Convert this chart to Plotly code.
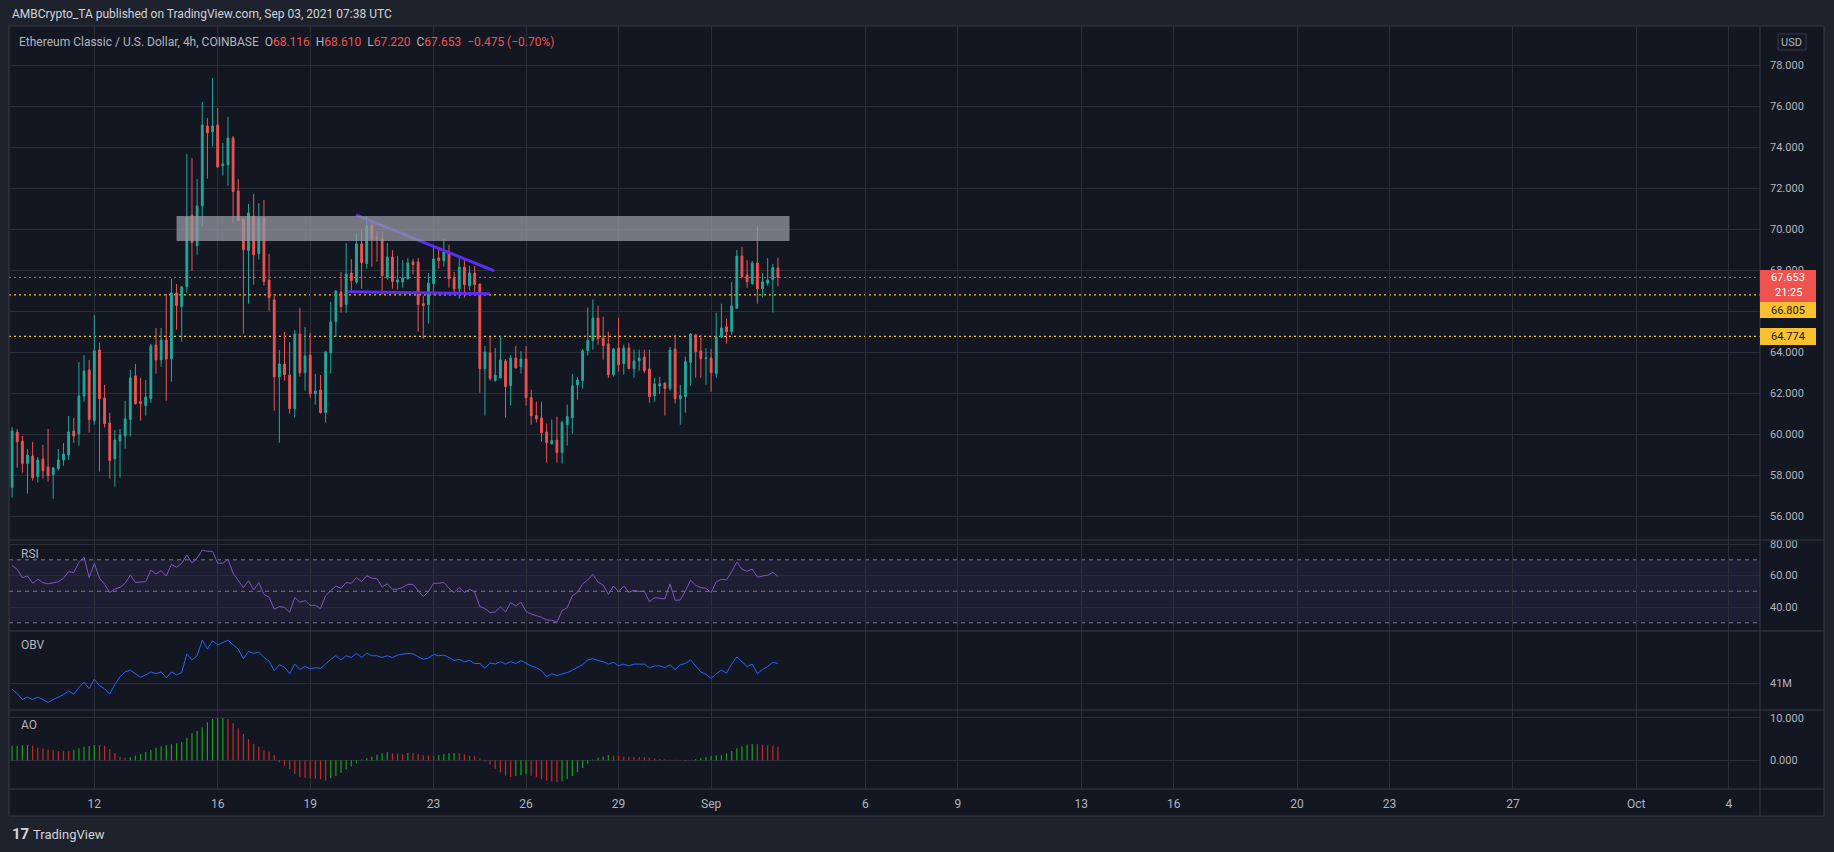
import plotly.graph_objects as go
import pandas as pd

# ---------------- data (4h bars, ETC/USD, Coinbase) ----------------
first_bar = "2021-08-09 08:00"

open_ = [
    57.40, 60.11, 59.67, 58.57, 58.94, 57.94, 58.80, 58.41, 58.03, 58.33,
    58.75, 58.99, 60.16, 60.02, 61.87, 63.14, 60.67, 64.11, 61.77, 60.55,
    58.81, 59.67, 59.92, 60.72, 62.85, 61.59, 61.40, 61.74, 64.36, 63.63,
    64.60, 63.67, 66.89, 66.23, 67.20, 70.70, 69.20, 71.15, 75.04, 74.76,
    75.09, 73.11, 73.15, 74.45, 71.87, 70.50, 68.96, 70.65, 68.81, 70.55,
    67.53, 66.55, 62.81, 63.43, 62.89, 61.25, 64.89, 63.00, 63.87, 61.98,
    62.16, 61.06, 63.98, 65.50, 66.94, 66.33, 67.87, 67.43, 69.29, 68.33,
    70.21, 69.63, 69.53, 67.64, 68.65, 67.43, 67.43, 67.59, 68.41, 68.41,
    66.37, 66.33, 67.35, 68.60, 68.47, 68.85, 67.63, 67.10, 68.16, 67.25,
    67.87, 67.33, 63.20, 63.97, 62.62, 62.76, 63.58, 62.37, 63.72, 63.30,
    63.67, 61.79, 60.91, 60.80, 60.11, 59.54, 59.72, 59.11, 60.47, 60.81,
    62.41, 62.62, 64.08, 64.57, 65.67, 64.70, 64.41, 62.91, 64.21, 63.45,
    64.21, 63.20, 63.59, 63.77, 63.19, 61.89, 62.36, 62.50, 62.23, 64.16,
    61.74, 61.84, 63.50, 64.85, 64.07, 63.69, 63.72, 62.96, 64.75, 65.24,
    65.01, 66.15, 68.70, 67.77, 67.35, 68.36, 67.10, 67.38, 67.54, 68.116,
]
high = [
    60.36, 60.26, 59.92, 59.28, 59.63, 58.89, 59.48, 60.26, 58.41, 59.28,
    59.58, 60.89, 60.80, 63.53, 63.87, 63.63, 65.82, 64.46, 62.41, 61.04,
    60.21, 60.26, 61.63, 63.14, 63.43, 62.75, 62.65, 64.41, 65.19, 65.19,
    66.85, 67.58, 67.33, 67.24, 73.68, 73.48, 72.46, 76.21, 75.43, 77.38,
    75.92, 74.21, 75.48, 74.55, 72.46, 70.52, 71.24, 71.72, 71.28, 71.43,
    68.80, 66.85, 64.11, 64.99, 64.50, 65.09, 66.16, 65.24, 64.94, 62.94,
    62.89, 64.07, 66.46, 67.02, 67.92, 69.33, 68.55, 69.77, 69.97, 70.65,
    70.31, 69.89, 69.92, 69.33, 68.99, 68.70, 68.50, 68.60, 68.55, 68.60,
    66.76, 67.87, 69.19, 69.04, 69.53, 69.24, 67.92, 68.65, 68.55, 68.21,
    68.21, 67.35, 64.31, 64.75, 64.21, 64.80, 63.67, 63.87, 64.31, 64.07,
    64.31, 62.18, 61.59, 61.59, 60.52, 60.72, 60.86, 60.67, 61.45, 62.94,
    62.80, 64.16, 66.18, 66.57, 66.28, 65.74, 65.01, 64.21, 65.69, 64.37,
    64.46, 64.13, 64.13, 64.13, 64.13, 62.76, 62.80, 62.52, 64.26, 64.85,
    62.41, 63.79, 64.94, 64.89, 64.85, 64.21, 64.16, 65.93, 66.37, 65.64,
    67.43, 68.99, 69.14, 68.50, 68.46, 70.16, 67.87, 68.60, 68.31, 68.610,
]
low = [
    56.91, 58.37, 58.13, 57.11, 57.74, 57.64, 57.84, 57.69, 56.86, 58.23,
    58.47, 58.75, 59.58, 59.45, 61.59, 60.08, 60.47, 58.18, 60.33, 57.84,
    57.45, 57.89, 59.30, 59.89, 61.45, 60.67, 60.91, 61.54, 62.96, 63.30,
    61.64, 62.57, 65.11, 64.52, 66.91, 67.98, 68.76, 70.15, 72.47, 74.03,
    73.01, 72.62, 72.13, 70.33, 70.40, 64.91, 66.37, 67.30, 68.52, 67.25,
    66.03, 61.15, 59.59, 62.62, 61.01, 60.81, 62.81, 62.13, 61.79, 61.45,
    61.01, 60.57, 62.96, 64.76, 65.93, 65.93, 66.91, 67.35, 67.10, 68.08,
    68.18, 68.42, 66.81, 67.54, 67.10, 67.06, 67.15, 67.54, 67.79, 65.01,
    64.67, 65.40, 66.81, 68.08, 68.18, 67.15, 66.91, 66.62, 66.67, 67.01,
    66.81, 62.03, 60.91, 62.62, 62.57, 62.72, 60.81, 61.40, 63.20, 62.96,
    61.40, 60.47, 60.57, 59.64, 58.62, 59.50, 58.62, 58.57, 59.45, 60.03,
    61.69, 62.23, 63.84, 64.13, 64.37, 63.64, 62.76, 62.81, 63.06, 62.91,
    63.18, 62.76, 63.10, 63.00, 61.54, 61.59, 61.98, 60.91, 62.13, 61.50,
    60.47, 61.06, 62.37, 62.76, 62.76, 62.42, 62.08, 62.76, 64.70, 64.42,
    64.86, 66.13, 67.59, 67.15, 67.30, 66.37, 66.67, 67.25, 65.94, 67.220,
]
close = [
    60.16, 59.64, 58.57, 58.99, 57.89, 58.75, 58.23, 57.98, 58.36, 58.75,
    59.04, 60.11, 59.92, 61.87, 63.09, 60.72, 64.07, 61.74, 60.52, 58.72,
    59.72, 59.97, 60.75, 62.75, 61.50, 61.50, 61.82, 64.31, 63.63, 64.60,
    63.67, 66.89, 66.28, 67.19, 70.60, 69.35, 71.14, 75.09, 74.71, 75.04,
    73.04, 73.19, 74.45, 71.84, 70.42, 69.01, 70.80, 68.76, 70.55, 67.45,
    66.67, 62.81, 63.43, 62.91, 61.25, 64.89, 63.00, 63.82, 61.98, 62.11,
    61.06, 64.02, 65.48, 66.99, 66.23, 67.82, 67.50, 69.29, 68.37, 70.16,
    69.50, 69.55, 67.74, 68.65, 67.45, 67.53, 67.63, 68.36, 68.28, 66.33,
    66.28, 67.38, 68.55, 68.47, 68.89, 67.59, 67.10, 68.16, 67.30, 67.87,
    67.30, 63.20, 64.02, 62.72, 62.89, 63.63, 62.33, 63.72, 63.24, 63.67,
    61.79, 60.91, 60.76, 60.08, 59.59, 59.69, 59.11, 60.57, 60.86, 62.36,
    62.65, 64.07, 64.57, 65.67, 64.67, 64.33, 62.91, 64.16, 63.40, 64.21,
    63.20, 63.58, 63.72, 63.10, 61.84, 62.46, 62.46, 62.23, 64.11, 61.74,
    61.89, 63.54, 64.89, 64.03, 63.69, 63.72, 63.00, 64.75, 65.19, 65.01,
    66.26, 68.70, 67.69, 67.45, 68.36, 67.10, 67.43, 67.53, 68.128, 67.653,
]
rsi = [
    66.3, 64.0, 58.7, 59.7, 55.1, 57.6, 55.5, 54.7, 55.4, 56.1,
    58.3, 62.5, 61.9, 68.4, 71.6, 58.7, 67.8, 58.3, 54.4, 49.2,
    51.5, 52.5, 55.1, 60.2, 55.7, 55.7, 56.1, 63.4, 61.0, 63.1,
    59.7, 67.1, 65.2, 67.8, 73.1, 68.0, 71.0, 76.2, 75.4, 75.4,
    67.8, 67.8, 70.3, 61.4, 57.2, 52.3, 56.8, 50.8, 55.5, 48.1,
    46.2, 38.6, 40.3, 39.8, 36.7, 46.0, 43.0, 44.1, 41.1, 41.1,
    39.0, 47.2, 50.4, 53.3, 51.9, 55.5, 55.1, 58.7, 56.1, 59.9,
    58.3, 58.0, 52.8, 54.7, 51.3, 51.3, 52.5, 54.4, 54.4, 50.2,
    46.6, 49.8, 55.1, 55.1, 55.7, 51.9, 49.2, 52.5, 49.2, 51.3,
    49.4, 40.3, 39.0, 36.5, 36.9, 40.1, 36.9, 42.8, 40.7, 43.0,
    37.1, 35.6, 34.5, 33.5, 31.8, 31.6, 30.3, 37.7, 39.6, 47.2,
    49.2, 54.7, 57.2, 60.8, 55.7, 54.0, 48.1, 53.4, 49.8, 53.4,
    49.4, 50.8, 49.8, 50.2, 43.4, 46.0, 45.6, 45.1, 54.7, 44.3,
    44.5, 50.2, 57.0, 53.8, 52.3, 51.9, 49.2, 56.1, 57.6, 57.2,
    62.5, 68.6, 64.0, 62.7, 64.2, 58.9, 59.7, 60.2, 62.1, 59.5,
]
obv_m = [
    40.90, 40.83, 40.73, 40.77, 40.73, 40.77, 40.73, 40.68, 40.73, 40.77,
    40.81, 40.87, 40.82, 40.93, 41.02, 40.91, 41.07, 40.96, 40.91, 40.82,
    40.98, 41.11, 41.19, 41.22, 41.16, 41.10, 41.14, 41.19, 41.16, 41.19,
    41.09, 41.19, 41.14, 41.18, 41.49, 41.39, 41.46, 41.72, 41.57, 41.71,
    41.64, 41.68, 41.72, 41.64, 41.57, 41.41, 41.53, 41.50, 41.52, 41.43,
    41.37, 41.21, 41.31, 41.27, 41.16, 41.32, 41.23, 41.28, 41.24, 41.26,
    41.25, 41.32, 41.40, 41.46, 41.39, 41.46, 41.43, 41.50, 41.43, 41.50,
    41.46, 41.46, 41.43, 41.46, 41.43, 41.47, 41.49, 41.50, 41.49, 41.44,
    41.40, 41.42, 41.48, 41.46, 41.47, 41.43, 41.38, 41.40, 41.36, 41.38,
    41.33, 41.33, 41.25, 41.34, 41.32, 41.36, 41.32, 41.36, 41.33, 41.38,
    41.33, 41.29, 41.26, 41.21, 41.11, 41.16, 41.13, 41.15, 41.18, 41.22,
    41.26, 41.31, 41.39, 41.41, 41.38, 41.36, 41.32, 41.35, 41.29, 41.32,
    41.29, 41.32, 41.32, 41.32, 41.26, 41.29, 41.29, 41.26, 41.31, 41.23,
    41.31, 41.33, 41.39, 41.29, 41.19, 41.15, 41.08, 41.16, 41.22, 41.17,
    41.32, 41.44, 41.36, 41.28, 41.32, 41.16, 41.23, 41.28, 41.35, 41.33,
]
ao = [
    3.44, 3.44, 3.52, 3.60, 3.44, 2.97, 2.74, 2.50, 2.35, 2.19,
    2.15, 2.11, 2.43, 2.82, 3.21, 3.36, 3.60, 3.58, 3.44, 2.66,
    1.72, 0.78, 0.63, 0.70, 1.10, 1.49, 1.96, 2.43, 2.97, 3.29,
    3.52, 3.76, 3.99, 4.23, 5.24, 6.34, 6.89, 7.75, 8.92, 9.70,
    9.94, 9.95, 9.70, 8.76, 7.51, 6.18, 5.01, 3.83, 3.21, 2.43,
    2.11, 1.25, -0.47, -1.25, -2.19, -3.21, -3.99, -4.07, -4.23, -4.30,
    -4.46, -4.77, -4.23, -3.68, -2.97, -2.19, -1.41, -0.70, 0.20, 0.47,
    0.86, 1.33, 1.64, 1.88, 1.64, 1.56, 1.49, 1.72, 1.64, 1.49,
    1.17, 1.10, 1.00, 1.25, 1.49, 1.64, 1.72, 1.64, 1.41, 1.10,
    0.94, 0.47, -0.30, -1.00, -2.00, -2.80, -3.60, -3.90, -3.70, -3.50,
    -3.30, -3.60, -4.00, -4.40, -4.80, -5.00, -5.10, -4.90, -4.40, -3.70,
    -2.80, -1.80, -0.80, 0.10, 0.60, 0.90, 1.25, 1.10, 1.00, 0.90,
    0.85, 0.80, 0.75, 0.70, 0.60, 0.45, 0.30, 0.20, 0.15, 0.10,
    0.05, -0.20, 0.00, 0.30, 0.55, 0.75, 0.95, 1.10, 1.20, 1.60,
    2.20, 2.80, 3.30, 3.70, 3.80, 3.75, 3.60, 3.50, 3.40, 3.20,
]

date_ticks = ["2021-08-12", "2021-08-16", "2021-08-19", "2021-08-23", "2021-08-26",
              "2021-08-29", "2021-09-01", "2021-09-06", "2021-09-09", "2021-09-13",
              "2021-09-16", "2021-09-20", "2021-09-23", "2021-09-27", "2021-10-01",
              "2021-10-04"]
date_labels = ["12", "16", "19", "23", "26", "29", "Sep", "6", "9", "13", "16",
               "20", "23", "27", "Oct", "4"]
price_ticks = [56, 58, 60, 62, 64, 66, 68, 70, 72, 74, 76, 78]
hidden_price_ticks = [66]          # fully covered by the level label in the reference
rsi_ticks = [40, 60, 80]
rsi_levels = [30, 50, 70]
obv_ticks = [41]
ao_ticks = [0, 10]

zone_low, zone_high = 69.43, 70.65
zone_start, zone_end = "2021-08-14 16:00", "2021-09-03 13:00"
trend_line = [("2021-08-20 11:36", 70.70), ("2021-08-24 23:12", 67.97)]
base_line = [("2021-08-20 05:36", 66.95), ("2021-08-24 19:36", 66.86)]
level_a, level_b = 66.805, 64.774
countdown = "21:25"
header_text = "AMBCrypto_TA published on TradingView.com, Sep 03, 2021 07:38 UTC"
symbol_text = "Ethereum Classic / U.S. Dollar, 4h, COINBASE"

n = len(close)
assert all(len(a) == n for a in (open_, high, low, rsi, obv_m, ao))
times = pd.date_range(first_bar, periods=n, freq="4h")

# ---------------- layout geometry (pixels) ----------------
W, H = 1834, 852
L, R, T, B = 9, 1760, 26, 789
def px(x): return (x - L) / (R - L)
def py(y): return (B - y) / (B - T)

UP, DN = "#26a69a", "#ef5350"
BG, OUT = "#131722", "#1e222d"
GRID, SEP = "#2a2e39", "#363a45"
TXT = "#b2b5be"
YEL = "#fbc02d"
FONT = "Roboto"

main_rng = [54.844, 79.917]
rsi_rng = [24.79, 82.57]
obv_rng = [40.555, 41.872]
ao_rng = [-6.74, 11.81]
PPX = (main_rng[1] - main_rng[0]) / (540 - T)   # price per pixel

fig = go.Figure()
fig.add_trace(go.Candlestick(
    x=times, open=open_, high=high, low=low, close=close,
    increasing=dict(fillcolor=UP, line=dict(color=UP, width=1)),
    decreasing=dict(fillcolor=DN, line=dict(color=DN, width=1)),
    whiskerwidth=0, xaxis="x", yaxis="y", hoverinfo="skip"))
fig.add_trace(go.Scatter(x=times, y=rsi, mode="lines",
                         line=dict(color="#7e57c2", width=1),
                         xaxis="x", yaxis="y2", hoverinfo="skip"))
fig.add_trace(go.Scatter(x=times, y=obv_m, mode="lines",
                         line=dict(color="#2962ff", width=1),
                         xaxis="x", yaxis="y3", hoverinfo="skip"))
# AO histogram as thin 1px columns (green when rising, red when falling)
for want_up, col in ((True, "#1e9e1e"), (False, "#c62828")):
    xs, ys = [], []
    for i in range(n):
        up = i == 0 or ao[i] >= ao[i - 1]
        if up == want_up:
            xs += [times[i], times[i], None]
            ys += [0, ao[i], None]
    fig.add_trace(go.Scatter(x=xs, y=ys, mode="lines", line=dict(color=col, width=1.2),
                             xaxis="x", yaxis="y4", hoverinfo="skip", connectgaps=False))

tick_font = dict(family=FONT, size=11, color=TXT)
yax_common = dict(side="right", anchor="x", showgrid=True, gridcolor=GRID, gridwidth=1,
                  zeroline=False, showline=False, ticks="", tickfont=tick_font,
                  ticklabelstandoff=9, fixedrange=True)

fig.update_layout(
    width=W, height=H,
    margin=dict(l=L, r=W - R, t=T, b=H - B, pad=0),
    paper_bgcolor=OUT, plot_bgcolor=BG,
    showlegend=False, hovermode=False,
    boxgap=0.5,
    xaxis=dict(type="date", range=["2021-08-09 05:36", "2021-10-05 00:15"],
               anchor="y4", tickvals=date_ticks, ticktext=date_labels,
               showgrid=True, gridcolor=GRID, gridwidth=1, zeroline=False,
               showline=False, ticks="", tickfont=dict(family=FONT, size=12, color=TXT),
               ticklabelstandoff=6, rangeslider=dict(visible=False), fixedrange=True),
    yaxis=dict(domain=[py(540), 1], range=main_rng, tickvals=price_ticks,
               ticktext=["" if v in hidden_price_ticks else f"{v:.3f}" for v in price_ticks],
               **yax_common),
    yaxis2=dict(domain=[py(631), py(540)], range=rsi_rng, tickvals=rsi_ticks,
                ticktext=[f"{v:.2f}" for v in rsi_ticks], **yax_common),
    yaxis3=dict(domain=[py(710), py(631)], range=obv_rng, tickvals=obv_ticks,
                ticktext=[f"{v}M" for v in obv_ticks], **yax_common),
    yaxis4=dict(domain=[0, py(710)], range=ao_rng, tickvals=ao_ticks,
                ticktext=[f"{v:.3f}" for v in ao_ticks], **yax_common),
)

shapes = []
# chart box background
shapes.append(dict(type="rect", xref="paper", yref="paper", x0=0, x1=px(1824),
                   y0=py(816), y1=1, fillcolor=BG, line=dict(width=0), layer="below"))
# RSI band and levels
shapes.append(dict(type="rect", xref="paper", yref="y2", x0=0, x1=1,
                   y0=rsi_levels[0], y1=rsi_levels[2],
                   fillcolor="rgba(126,87,194,0.10)", line=dict(width=0), layer="below"))
for lv in rsi_levels:
    shapes.append(dict(type="line", xref="paper", yref="y2", x0=0, x1=1, y0=lv, y1=lv,
                       line=dict(color="#787b86", width=1, dash="4px,4px"), layer="below"))
# price lines (dotted)
shapes.append(dict(type="line", xref="paper", yref="y", x0=0, x1=1, y0=close[-1], y1=close[-1],
                   line=dict(color=DN, width=1, dash="2px,3px"), layer="below"))
for lv in (level_a, level_b):
    shapes.append(dict(type="line", xref="paper", yref="y", x0=0, x1=1, y0=lv, y1=lv,
                       line=dict(color=YEL, width=1.2, dash="2px,3px"), layer="below"))
# drawings
for (p0, p1) in (trend_line, base_line):
    shapes.append(dict(type="line", xref="x", yref="y", x0=p0[0], y0=p0[1], x1=p1[0], y1=p1[1],
                       line=dict(color="#5a2df7", width=3), layer="above"))
shapes.append(dict(type="rect", xref="x", yref="y", x0=zone_start, x1=zone_end,
                   y0=zone_low, y1=zone_high, fillcolor="rgba(149,152,161,0.75)",
                   line=dict(width=0), layer="above"))
# pane separators
for yy in (540, 631, 710, 789):
    shapes.append(dict(type="line", xref="paper", yref="paper", x0=0, x1=px(1824),
                       y0=py(yy), y1=py(yy), line=dict(color=SEP, width=1), layer="above"))
shapes.append(dict(type="line", xref="paper", yref="paper", x0=1, x1=1, y0=py(816), y1=1,
                   line=dict(color=SEP, width=1), layer="above"))
shapes.append(dict(type="rect", xref="paper", yref="paper", x0=0, x1=px(1824), y0=py(816), y1=1,
                   line=dict(color=SEP, width=1), fillcolor="rgba(0,0,0,0)", layer="above"))
# price-axis labels
bx0, bx1 = 1.0, px(1816)
shapes.append(dict(type="rect", xref="paper", yref="y", x0=bx0, x1=bx1,
                   y0=close[-1] - 24.6 * PPX, y1=close[-1] + 7.4 * PPX,
                   fillcolor=DN, line=dict(width=0), layer="above"))
ya_c = close[-1] - 32.6 * PPX   # stacked below the last-price label
shapes.append(dict(type="rect", xref="paper", yref="y", x0=bx0, x1=bx1,
                   y0=ya_c - 8 * PPX, y1=ya_c + 8 * PPX,
                   fillcolor=YEL, line=dict(width=0), layer="above"))
shapes.append(dict(type="rect", xref="paper", yref="y", x0=bx0, x1=bx1,
                   y0=level_b - 8.5 * PPX, y1=level_b + 8.5 * PPX,
                   fillcolor=YEL, line=dict(width=0), layer="above"))
# USD badge
shapes.append(dict(type="rect", xref="paper", yref="paper", x0=px(1778), x1=px(1806),
                   y0=py(50), y1=py(34), line=dict(color=SEP, width=1),
                   fillcolor=BG, layer="above"))
fig.update_layout(shapes=shapes)

ann = []
def note(x, y, text, size=12, color=TXT, xanchor="left", yref="paper"):
    ann.append(dict(xref="paper", yref=yref, x=x, y=y, text=text, showarrow=False,
                    xanchor=xanchor, yanchor="middle",
                    font=dict(family=FONT, size=size, color=color)))

lab_x = px(1788)
note(lab_x, close[-1], f"{close[-1]:.3f}", 11, "#ffffff", "center", "y")
note(lab_x, close[-1] - 15 * PPX, countdown, 11, "#ffffff", "center", "y")
note(lab_x, ya_c, f"{level_a:.3f}", 11, "#131722", "center", "y")
note(lab_x, level_b, f"{level_b:.3f}", 11, "#131722", "center", "y")
note(px(1792), py(42), "USD", 11, TXT, "center")

note(px(10), py(14), header_text, 12, "#d1d4dc")
chg = close[-1] - close[-2]
pct = chg / close[-2] * 100
red = lambda s: f"<span style='color:{DN}'>{s}</span>"
sp = "\u00a0\u00a0"
title = (symbol_text + sp + "O" + red(f"{open_[-1]:.3f}") + sp + "H" + red(f"{high[-1]:.3f}")
         + sp + "L" + red(f"{low[-1]:.3f}") + sp + "C" + red(f"{close[-1]:.3f}") + sp
         + red(f"{chg:.3f} ({pct:.2f}%)".replace("-", "\u2212")))
note(px(17), py(42), title, 12, TXT)
note(px(19), py(554), "RSI", 12, TXT)
note(px(19), py(645), "OBV", 12, TXT)
note(px(19), py(725), "AO", 12, TXT)
note(px(10), py(834), "<b>17</b>", 15, "#d1d4dc")
note(px(31), py(834), "TradingView", 13, "#d1d4dc")
fig.update_layout(annotations=ann)

fig.write_html("out.html")
